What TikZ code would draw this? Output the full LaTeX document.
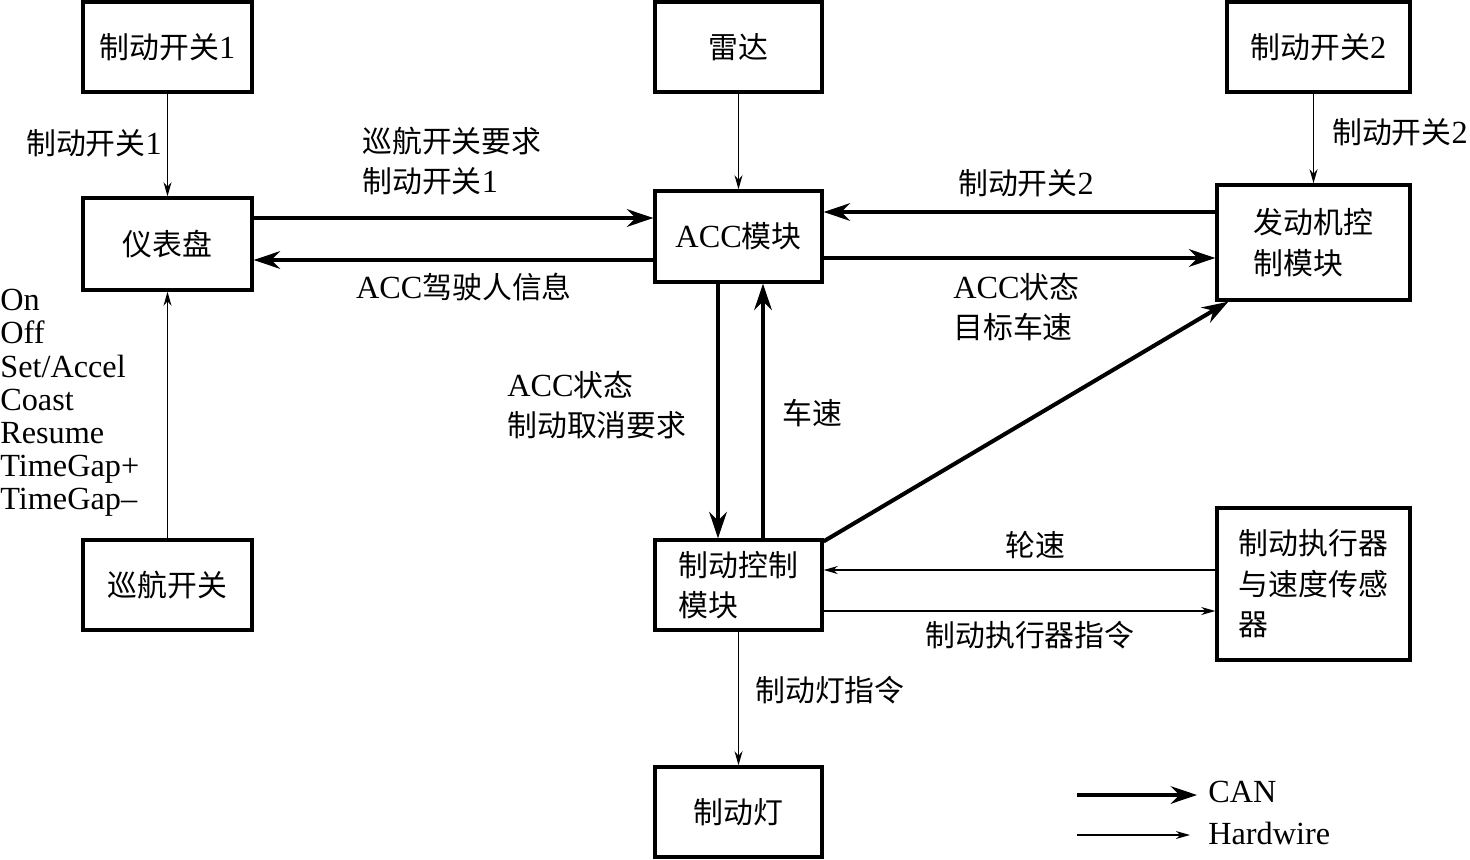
\documentclass[tikz,border=0pt]{standalone}
\usepackage{fontspec}
\setmainfont{Liberation Serif}[Scale=1.08]
\newfontfamily\cjk{Noto Sans CJK SC}
\newcommand{\zh}[1]{{\cjk #1}}
\usetikzlibrary{arrows.meta, positioning}

\begin{document}
\begin{tikzpicture}[
    x=0.02cm, y=-0.02cm,
    every node/.style={font=\fontsize{17}{23}\selectfont},
    box/.style={draw, line width=1.9pt, inner sep=0pt, align=left},
    lbl/.style={inner sep=0pt, align=left},
    can/.style={line width=2.3pt, -{Stealth[length=15pt, width=10pt, inset=5pt]}},
    wire/.style={line width=0.8pt, -{Stealth[length=8pt, width=4.5pt, inset=2.5pt]}}
]
\useasboundingbox (0,0) rectangle (1470,859);

% modules
\node[box, minimum width=3.38cm, minimum height=1.8cm]  (sw1)    at (167.5,47)   {\zh{制动开关}1};
\node[box, minimum width=3.34cm, minimum height=1.8cm]  (radar)  at (738.5,47)   {\zh{雷达}};
\node[box, minimum width=3.66cm, minimum height=1.8cm]  (sw2)    at (1318.5,47)  {\zh{制动开关}2};
\node[box, minimum width=3.38cm, minimum height=1.84cm] (panel)  at (167.5,244)  {\zh{仪表盘}};
\node[box, minimum width=3.34cm, minimum height=1.82cm] (acc)    at (738.5,236.5) {ACC\zh{模块}};
\node[box, minimum width=3.86cm, minimum height=2.3cm]  (ecm)    at (1313.5,242.5) {\zh{发动机控}\\\zh{制模块}};
\node[box, minimum width=3.38cm, minimum height=1.8cm]  (cruise) at (167.5,585)  {\zh{巡航开关}};
\node[box, minimum width=3.34cm, minimum height=1.8cm]  (bcm)    at (738.5,585)  {\zh{制动控制}\\\zh{模块}};
\node[box, minimum width=3.86cm, minimum height=3.04cm] (act)    at (1313.5,584) {\zh{制动执行器}\\\zh{与速度传感}\\\zh{器}};
\node[box, minimum width=3.34cm, minimum height=1.8cm]  (lamp)   at (738.5,812)  {\zh{制动灯}};

% hardwire
\draw[wire] (sw1) -- (panel);
\draw[wire] (radar) -- (acc);
\draw[wire] (sw2.south -| ecm) -- (ecm);
\draw[wire] (cruise) -- (panel);
\draw[wire] ([yshift=0.28cm]act.west) -- ([yshift=0.28cm]act.west -| bcm.east);
\draw[wire] ([yshift=-0.54cm]act.west -| bcm.east) -- ([yshift=-0.54cm]act.west);
\draw[wire] (bcm) -- (lamp);

% CAN
\draw[can] ([yshift=0.52cm]panel.east) -- ([yshift=0.52cm]panel.east -| acc.west);
\draw[can] ([yshift=-0.32cm]panel.east -| acc.west) -- ([yshift=-0.32cm]panel.east);
\draw[can] ([yshift=0.61cm]ecm.west) -- ([yshift=0.61cm]ecm.west -| acc.east);
\draw[can] ([yshift=-0.31cm]ecm.west -| acc.east) -- ([yshift=-0.31cm]ecm.west);
\draw[can] ([xshift=-0.41cm]acc.south) -- ([xshift=-0.41cm]acc.south |- bcm.north);
\draw[can] ([xshift=0.49cm]acc.south |- bcm.north) -- ([xshift=0.49cm]acc.south);
\draw[can] ([yshift=-0.06cm]bcm.north east) -- ([xshift=0.26cm]ecm.south west);

% labels
\node[lbl] (l1)  at (94,143)   {\zh{制动开关}1};
\node[lbl, anchor=west] (l2) at (362,161) {\zh{巡航开关要求}\\\zh{制动开关}1};
\node[lbl] (l3)  at (464,287)  {ACC\zh{驾驶人信息}};
\node[lbl] (l4)  at (1026,183) {\zh{制动开关}2};
\node[lbl, anchor=west] (l5) at (953,307) {ACC\zh{状态}\\\zh{目标车速}};
\node[lbl] (l6)  at (1400,132) {\zh{制动开关}2};
\node[lbl, anchor=west] (l7) at (507,405) {ACC\zh{状态}\\\zh{制动取消要求}};
\node[lbl] (l8)  at (812,413)  {\zh{车速}};
\node[lbl] (l9)  at (1035,545) {\zh{轮速}};
\node[lbl] (l10) at (1030,635) {\zh{制动执行器指令}};
\node[lbl, anchor=west] (l11) at (755,690) {\zh{制动灯指令}};
\node[lbl, anchor=west, font=\fontsize{17}{18.9}\selectfont] (keys) at (0,403)
    {On\\Off\\Set/Accel\\Coast\\Resume\\TimeGap+\\TimeGap–};

% legend
\coordinate (canA) at (1077,795);
\coordinate (canB) at (1197,795);
\coordinate (hwA)  at (1077,835);
\coordinate (hwB)  at (1190,835);
\draw[can]  (canA) -- (canB);
\draw[wire] (hwA) -- (hwB);
\node[lbl, anchor=west] (lcan) at (1208,792) {CAN};
\node[lbl, anchor=west] (lhw)  at (1208,833) {Hardwire};
\end{tikzpicture}
\end{document}
